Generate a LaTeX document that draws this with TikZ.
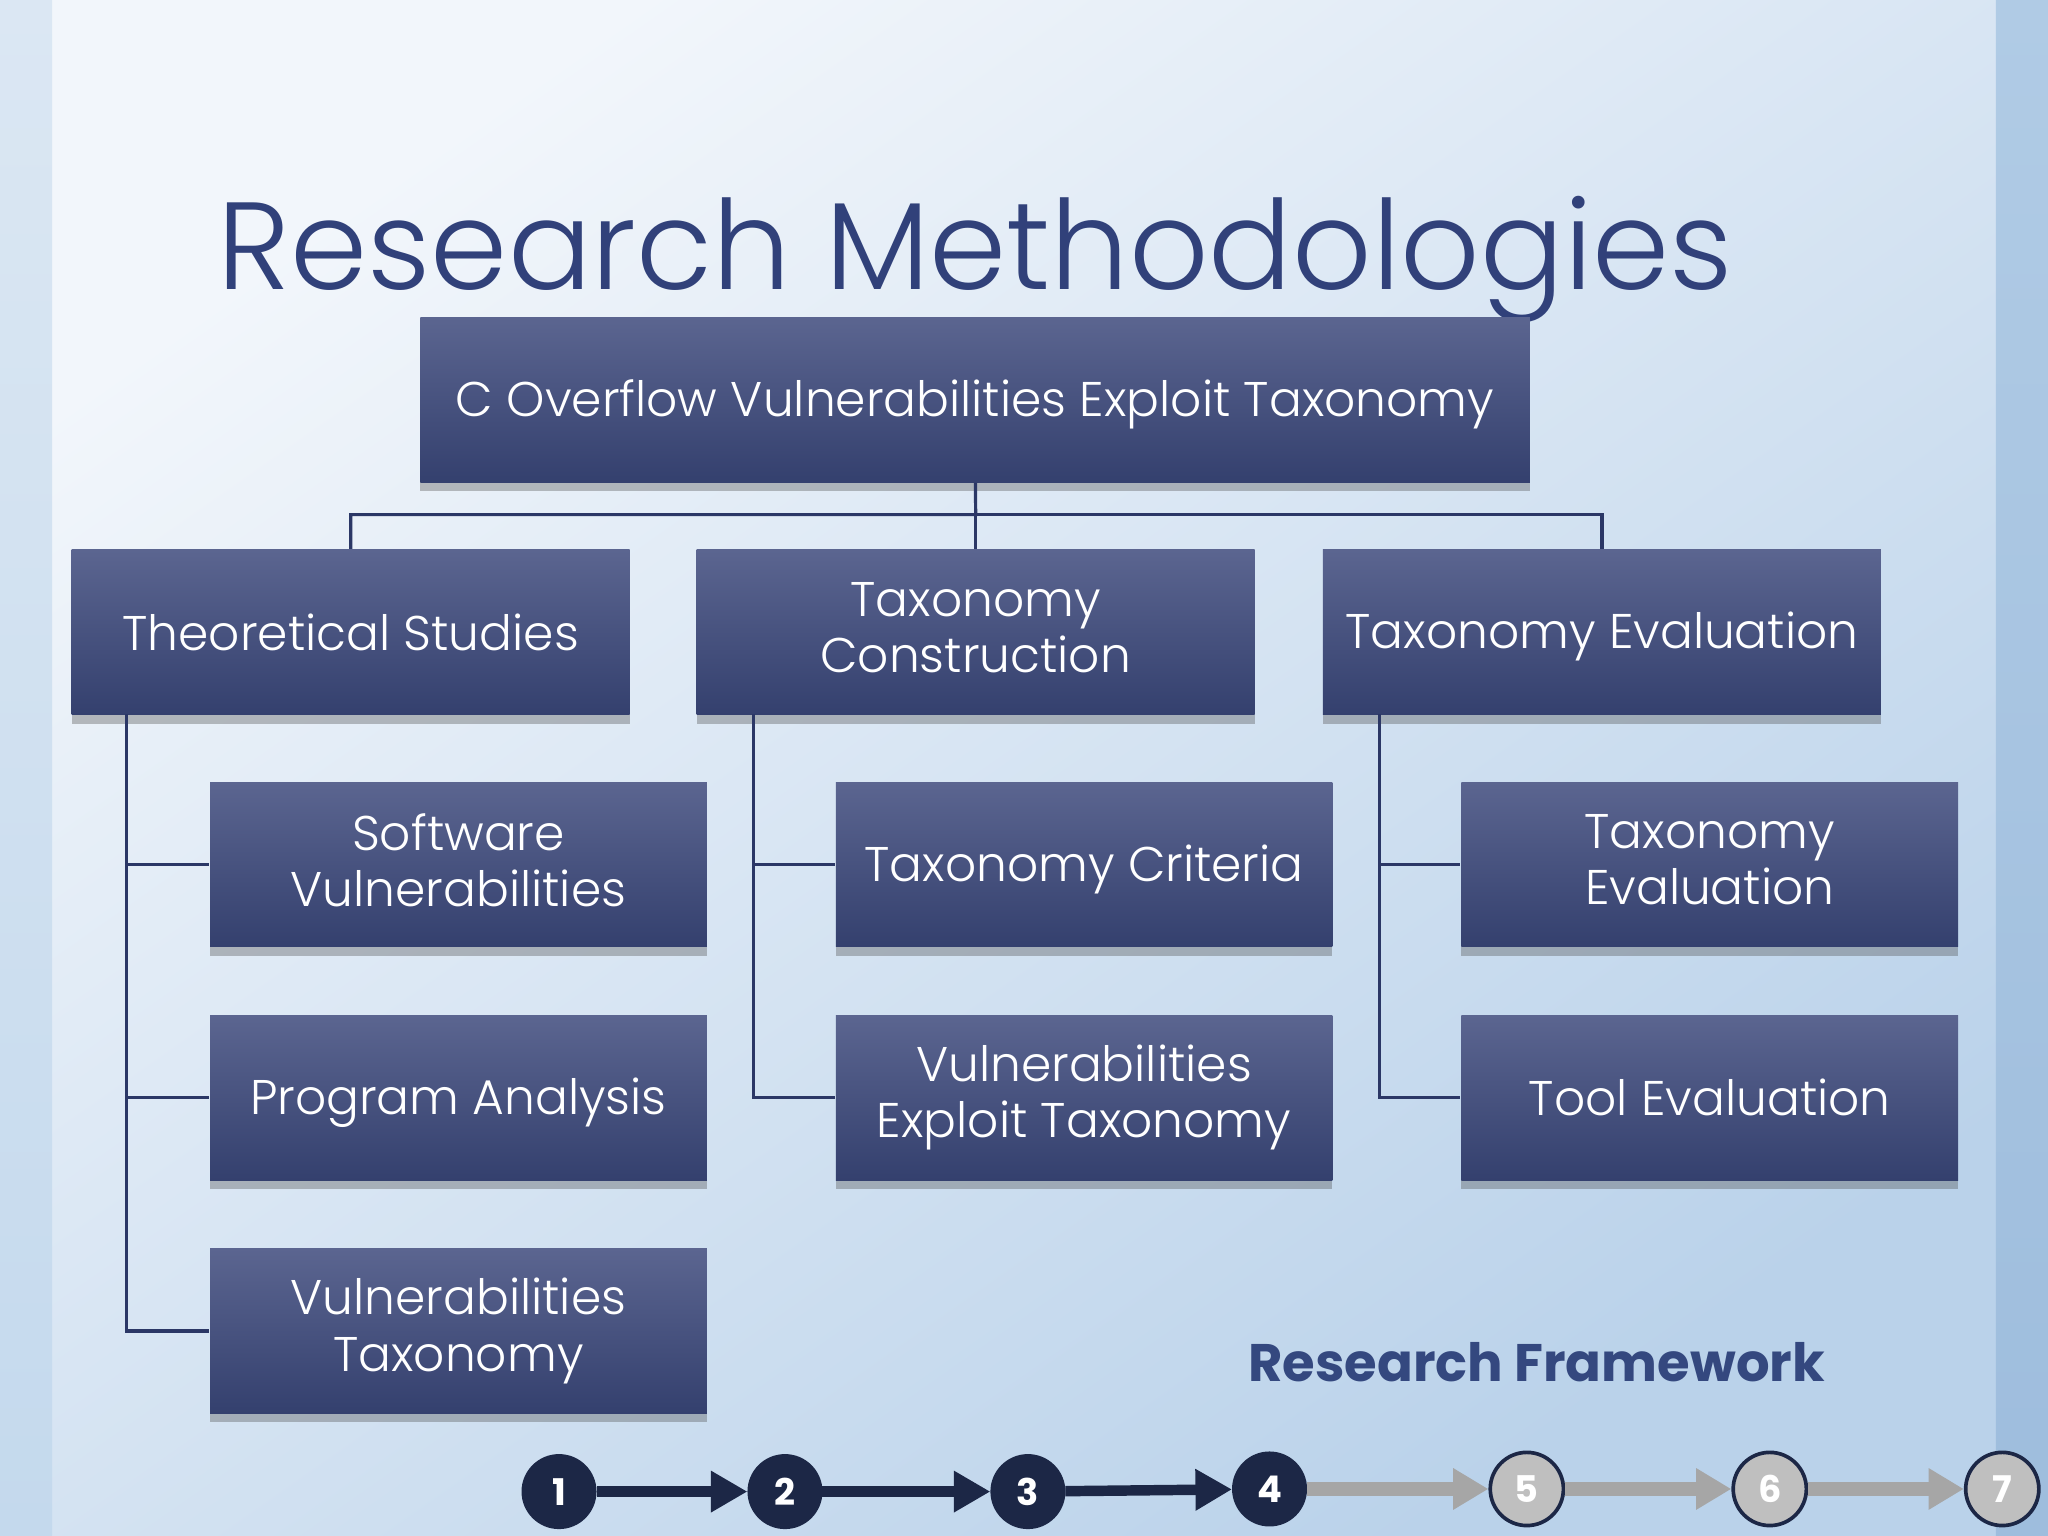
\documentclass[tikz,border=0pt]{standalone}
\usepackage{fontspec}
\setmainfont{Poppins}
\newfontfamily\thinfont{Poppins Light}
\usetikzlibrary{arrows.meta,shadows}
\definecolor{boxtop}{HTML}{5B6590}
\definecolor{boxbot}{HTML}{34406E}
\definecolor{linkcol}{HTML}{2B3766}
\definecolor{titlecol}{HTML}{31417A}
\definecolor{framecol}{HTML}{34487F}
\definecolor{stepdark}{HTML}{1C2746}
\definecolor{stepgray}{HTML}{BFBFBF}
\definecolor{arrowgray}{HTML}{A6A6A6}
\newcommand\boxstrut{\rule[-2.2pt]{0pt}{12.2pt}}
\tikzset {>=Stealth,
  box/.style={inner sep=0pt, text=white, align=center,
    top color=boxtop, bottom color=boxbot,
    drop shadow={shadow xshift=0pt, shadow yshift=-0.07cm, opacity=0.35, fill=black!70},
    font=\thinfont\fontsize{10.6}{12.2}\selectfont, minimum height=1.26cm,
    execute at begin node=\boxstrut, execute at end node=\boxstrut},
  topbox/.style={box, minimum width=8.49cm},
  midbox/.style={box, minimum width=4.27cm},
  leafbox/.style={box, minimum width=3.80cm},
  link/.style={draw=linkcol, line width=0.7pt},
  stepdone/.style={circle, inner sep=0pt, minimum size=0.56cm, fill=stepdark, draw=stepdark,
    text=white, font=\fontsize{8}{8}\bfseries\selectfont},
  steptodo/.style={stepdone, fill=stepgray, line width=0.8pt},
  flowdone/.style={draw=stepdark, line width=0.08cm, -{Triangle[length=0.28cm,width=0.3cm]}},
  flowtodo/.style={draw=arrowgray, line width=0.1cm, -{Triangle[length=0.27cm,width=0.3cm]}}
}

\begin{document}
\begin{tikzpicture}[x=0.01cm,y=-0.01cm]

% Background
\useasboundingbox (0,0) rectangle (1568,1176);
\shade[top color={rgb,255:red,242;green,246;blue,251}, bottom color={rgb,255:red,186;green,210;blue,234}, shading angle=35] (40,0) rectangle (1528,1176);
\shade[top color={rgb,255:red,219;green,231;blue,243}, bottom color={rgb,255:red,196;green,217;blue,237}] (0,0) rectangle (40,1176);
\shade[top color={rgb,255:red,176;green,203;blue,229}, bottom color={rgb,255:red,158;green,189;blue,221}] (1528,0) rectangle (1568,1176);

% Titles
\node[anchor=base west, inner sep=0pt, text=titlecol, font=\thinfont\fontsize{27}{28}\selectfont] (title) at (166,222) {Research Methodologies};
\node[anchor=base west, inner sep=0pt, text=framecol, font=\fontsize{11.5}{12}\bfseries\selectfont] (frame) at (955,1058) {Research Framework};

% Draw boxes
\node[topbox] (top) at (746.5,306) {C Overflow Vulnerabilities Exploit Taxonomy};
\node[midbox] (theory) at (268.5,484) {Theoretical Studies};
\node[midbox] (construct) at (747,484) {Taxonomy\\Construction};
\node[midbox] (evalu) at (1226.5,484) {Taxonomy Evaluation};

\node[leafbox] (softvuln) at (351,662) {Software\\Vulnerabilities};
\node[leafbox] (proganalysis) at (351,840.5) {Program Analysis};
\node[leafbox] (vulntax) at (351,1019) {Vulnerabilities\\Taxonomy};

\node[leafbox] (criteria) at (830,662) {Taxonomy Criteria};
\node[leafbox] (exploittax) at (830,840.5) {Vulnerabilities\\Exploit Taxonomy};

\node[leafbox] (taxeval) at (1309,662) {Taxonomy\\Evaluation};
\node[leafbox] (tooleval) at (1309,840.5) {Tool Evaluation};

% Draw tree links
\coordinate (bus) at (747,394);
\coordinate (TS) at (97,547);
\coordinate (TC) at (577,547);
\coordinate (TE) at (1056,547);
\draw[link] (top) -- (bus) -| (theory);
\draw[link] (bus) -| (evalu);
\draw[link] (bus) -- (construct);
\draw[link] (TS) |- (softvuln);
\draw[link] (TS) |- (proganalysis);
\draw[link] (TS) |- (vulntax);
\draw[link] (TC) |- (criteria);
\draw[link] (TC) |- (exploittax);
\draw[link] (TE) |- (taxeval);
\draw[link] (TE) |- (tooleval);

% Draw progress steps
\node[stepdone] (s1) at (428,1142) {1};
\node[stepdone] (s2) at (601,1142) {2};
\node[stepdone] (s3) at (787,1142) {3};
\node[stepdone] (s4) at (972,1140) {4};
\node[steptodo] (s5) at (1169,1140) {5};
\node[steptodo] (s6) at (1355,1140) {6};
\node[steptodo] (s7) at (1533,1140) {7};

\draw[flowdone] (s1) -- (s2);
\draw[flowdone] (s2) -- (s3);
\draw[flowdone] (s3) -- (s4);
\draw[flowtodo] (s4) -- (s5);
\draw[flowtodo] (s5) -- (s6);
\draw[flowtodo] (s6) -- (s7);

\end{tikzpicture}
\end{document}
